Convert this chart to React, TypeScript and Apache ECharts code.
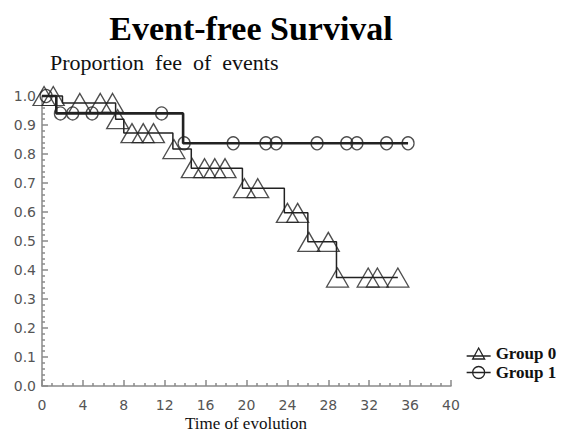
import React, { useEffect, useRef } from "react";
import * as echarts from "echarts";

// Kaplan-Meier step curves (time in months, proportion free of events)
const group0Times = [0, 2.0, 7.2, 8.0, 12.8, 14.6, 19.6, 23.7, 26.0, 28.8, 34.8];
const group0Surv = [1.0, 0.976, 0.92, 0.872, 0.817, 0.751, 0.682, 0.597, 0.497, 0.374, 0.374];
const group0CensorTimes = [0.2, 1.1, 3.7, 5.7, 6.9, 7.4, 8.8, 9.9, 10.9, 12.9, 14.7, 15.9, 16.9, 17.9, 19.8, 21.1, 24.0, 25.0, 26.1, 28.0, 28.9, 31.9, 32.8, 34.8];
const group0CensorSurv = [1.0, 1.0, 0.976, 0.976, 0.976, 0.92, 0.872, 0.872, 0.872, 0.817, 0.751, 0.751, 0.751, 0.751, 0.682, 0.682, 0.597, 0.597, 0.497, 0.497, 0.374, 0.374, 0.374, 0.374];

const group1Times = [0, 1.4, 13.8, 35.8];
const group1Surv = [1.0, 0.94, 0.837, 0.837];
const group1CensorTimes = [0.4, 1.8, 3.0, 4.9, 11.7, 13.9, 18.7, 21.9, 22.9, 26.9, 29.8, 30.8, 33.7, 35.8];
const group1CensorSurv = [1.0, 0.94, 0.94, 0.94, 0.94, 0.837, 0.837, 0.837, 0.837, 0.837, 0.837, 0.837, 0.837, 0.837];

const groupNames = ["Group 0", "Group 1"];

const zip = (a: number[], b: number[]) => a.map((v, i) => [v, b[i]]);

export default function App() {
  const ref = useRef<HTMLDivElement>(null);
  useEffect(() => {
    if (!ref.current) return;
    const chart = echarts.init(ref.current, undefined, { renderer: "svg" });
    const ink = "#222";
    const axisGray = "#8a8a8a";
    const markStyle = { color: "rgba(0,0,0,0)", borderColor: ink, borderWidth: 1.3 };
    chart.setOption({
      animation: false,
      graphic: [
        {
          type: "text",
          x: 251,
          y: 28,
          style: {
            text: "Event-free Survival",
            font: "bold 34px 'Liberation Serif', 'Times New Roman', serif",
            fill: "#000",
            textAlign: "center",
            textVerticalAlign: "middle",
          },
        },
        {
          type: "text",
          x: 50,
          y: 62,
          style: {
            text: "Proportion  fee  of  events",
            font: "22px 'Liberation Serif', 'Times New Roman', serif",
            fill: "#111",
            textAlign: "left",
            textVerticalAlign: "middle",
          },
        },
        {
          type: "text",
          x: 246,
          y: 423,
          style: {
            text: "Time of evolution",
            font: "17px 'Liberation Serif', 'Times New Roman', serif",
            fill: "#111",
            textAlign: "center",
            textVerticalAlign: "middle",
          },
        },
      ],
      legend: {
        orient: "vertical",
        left: 461,
        top: 340,
        itemWidth: 24,
        itemHeight: 12,
        itemGap: 2,
        selectedMode: false,
        itemStyle: { color: "rgba(0,0,0,0)", borderColor: ink, borderWidth: 1.3 },
        textStyle: {
          fontFamily: "'Liberation Serif', 'Times New Roman', serif",
          fontWeight: "bold",
          fontSize: 17,
          color: "#111",
          padding: [0, 0, 0, 0],
        },
        data: [
          { name: groupNames[0], icon: "path://M0,9 L24,9 M6,12 L12,1 L18,12 Z" },
          { name: groupNames[1], icon: "path://M0,6 L24,6 M18,6 A6,6 0 1 1 6,6 A6,6 0 1 1 18,6 Z" },
        ],
      },
      grid: { left: 42, right: 110, top: 96, bottom: 48, outerBoundsMode: "none", containLabel: false },
      xAxis: {
        type: "value",
        min: 0,
        max: 40,
        interval: 4,
        axisLine: { show: true, lineStyle: { color: axisGray, width: 1.5 } },
        axisTick: { show: true, inside: true, length: 6, lineStyle: { color: axisGray, width: 1.5 } },
        minorTick: { show: true, splitNumber: 4, length: 3, lineStyle: { color: axisGray, width: 1.5 } },
        splitLine: { show: false },
        axisLabel: {
          margin: 12,
          fontFamily: "'DejaVu Sans', Verdana, sans-serif",
          fontSize: 14,
          color: "#555",
        },
      },
      yAxis: {
        type: "value",
        min: 0,
        max: 1,
        interval: 0.1,
        axisLine: { show: true, lineStyle: { color: axisGray, width: 1.5 } },
        axisTick: { show: true, inside: true, length: 6, lineStyle: { color: axisGray, width: 1.5 } },
        minorTick: { show: true, splitNumber: 5, length: 3, lineStyle: { color: axisGray, width: 1.5 } },
        splitLine: { show: false },
        axisLabel: {
          margin: 6,
          fontFamily: "'DejaVu Sans', Verdana, sans-serif",
          fontSize: 14,
          color: "#555",
          formatter: (v: number) => v.toFixed(1),
        },
      },
      series: [
        {
          name: groupNames[0],
          type: "line",
          step: "end",
          data: zip(group0Times, group0Surv),
          showSymbol: false,
          symbol: "none",
          clip: false,
          lineStyle: { color: ink, width: 1.5 },
          itemStyle: { color: ink },
          z: 2,
        },
        {
          name: groupNames[0],
          type: "scatter",
          data: zip(group0CensorTimes, group0CensorSurv),
          symbol: "triangle",
          symbolSize: [22, 19],
          clip: false,
          itemStyle: markStyle,
          z: 3,
        },
        {
          name: groupNames[1],
          type: "line",
          step: "end",
          data: zip(group1Times, group1Surv),
          showSymbol: false,
          symbol: "none",
          clip: false,
          lineStyle: { color: ink, width: 2.6 },
          itemStyle: { color: ink },
          z: 2,
        },
        {
          name: groupNames[1],
          type: "scatter",
          data: zip(group1CensorTimes, group1CensorSurv),
          symbol: "circle",
          symbolSize: [12, 13],
          clip: false,
          itemStyle: markStyle,
          z: 3,
        },
      ],
    });
    return () => chart.dispose();
  }, []);
  return (
    <div
      ref={ref}
      style={{ position: "fixed", left: 0, top: 0, width: 561, height: 434, background: "#fff" }}
    />
  );
}
